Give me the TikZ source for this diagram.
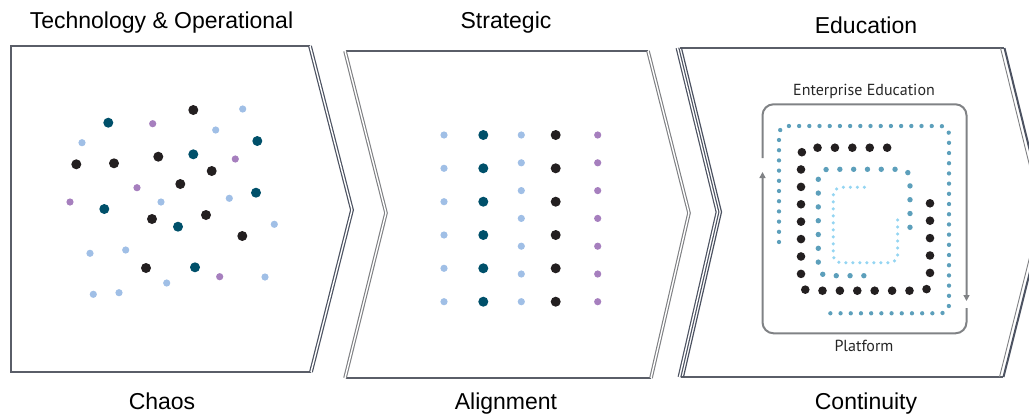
\documentclass[tikz,border=0pt]{standalone}
\usepackage{fontspec}
\setmainfont{Liberation Sans}
\newfontfamily\labelfont{PT Sans}
\usetikzlibrary{arrows.meta}

\definecolor{rimgrey}{HTML}{5A5E68}
\definecolor{edgedark}{HTML}{4C5261}
\definecolor{edgelight}{HTML}{7E7F82}
\definecolor{loopgrey}{HTML}{808285}
\definecolor{dotblack}{HTML}{231F20}
\definecolor{dotteal}{HTML}{00506A}
\definecolor{dotsky}{HTML}{A0BFE6}
\definecolor{dotviolet}{HTML}{A67FBE}
\definecolor{dotblue}{HTML}{5C9FBB}
\definecolor{dotcyan}{HTML}{94D5F2}

\tikzset{
  rim/.style={draw=rimgrey, line width=1.6pt},
  edgeD/.style={draw=edgedark, line width=1.2pt, double=white, double distance=1.4pt},
  edgeL/.style={draw=edgelight, line width=1.1pt, double=white, double distance=1.4pt},
  title/.style={font=\fontsize{23}{26}\selectfont, text=black, anchor=base, inner sep=0pt},
  sublabel/.style={font=\labelfont\fontsize{16}{18}\selectfont, text=black!85, anchor=base, inner sep=0pt},
  bigdot/.style={radius=5pt},
  smalldot/.style={radius=3.6pt},
  dotline/.style={line cap=round, dash pattern=on 0pt off #1},
  loopline/.style={draw=loopgrey, line width=2pt, rounded corners=11pt},
  looptip/.style={-{Triangle[length=6pt,width=6pt]}},
}

\begin{document}
\begin{tikzpicture}[x=1pt, y=-1pt]
\useasboundingbox (0,0) rectangle (1029,413);
\clip (0,0) rectangle (1029,413);

% ---------- panel 1: chaos ----------
\draw[rim] (310,46) -- (11,46) -- (11,372) -- (311,372);
\draw[draw=rimgrey, line width=2.2pt] (11,45) -- (11,373);
\draw[edgeD] (310,46) -- (352,210) -- (311,372);

\foreach \p in {(193.3,110),(76.3,164.3),(114,163.3),(158.3,156.7),(211.7,171),
                (180.3,184),(152,219),(206,215),(242.3,236),(146,268)}
  \fill[dotblack] \p circle[bigdot];
\foreach \p in {(108.3,122.7),(257.3,141),(193.3,154.3),(104.3,209),(256,192.7),
                (178,226.7),(195,267.3)}
  \fill[dotteal] \p circle[bigdot];
\foreach \p in {(242.7,109),(215.7,130),(82,142.7),(161,202),(229.3,198.3),
                (274.3,224.3),(90,253.3),(125.7,250),(265,277),(166.7,283),
                (93.3,294.3),(119,292.7)}
  \fill[dotsky] \p circle[smalldot];
\foreach \p in {(152.7,123.7),(235.3,159),(137,187.7),(70,202),(219.7,276.7)}
  \fill[dotviolet] \p circle[smalldot];

% ---------- panel 2: alignment ----------
\draw[rim] (346,51) -- (648,51);
\draw[rim] (346,378) -- (651,378);
\draw[edgeL] (345,51) -- (386,213) -- (345,378);
\draw[edgeL] (648,51) -- (689,213) -- (651,378);

\foreach \y in {135,168.3,201.7,235,268.3,301.7} {
  \fill[dotsky]   (444,\y)   circle[smalldot];
  \fill[dotteal]  (483.3,\y) circle[bigdot];
  \fill[dotblack] (555.7,\y) circle[bigdot];
}
\foreach \y in {135,162.8,190.6,218.4,246.2,274,301.7} {
  \fill[dotsky]    (521.3,\y) circle[smalldot];
  \fill[dotviolet] (597.7,\y) circle[smalldot];
}

% ---------- panel 3: continuity ----------
\draw[rim] (680,48) -- (1004,48);
\draw[rim] (681,377) -- (1003,377);
\draw[edgeD] (677.5,48) -- (717.5,212) -- (679.5,377);
\draw[draw=edgedark, line width=1.2pt] (681.5,48) -- (721.5,212) -- (683.5,377);
\draw[draw=edgelight, line width=0.9pt] (1000.5,48) -- (1041,212) -- (999.5,377);
\draw[draw=edgedark, line width=2pt] (1004.5,48) -- (1045,212) -- (1003.5,377);

% loop around the spiral
\draw[loopline, looptip] (762.5,158) -- (762.5,104.3) -- (966.5,104.3) -- (966.5,301);
\draw[loopline, looptip] (966.5,308) -- (966.5,333.3) -- (762.5,333.3) -- (762.5,172);

% dotted spiral, outside in
\draw[draw=dotblue, line width=4.3pt, dotline=10.2pt, rounded corners=8pt]
  (779,242) -- (779,126) -- (949,126) -- (949,313.3) -- (825,313.3);
\draw[draw=dotblack, line width=8.6pt, dotline=17.4pt, rounded corners=8pt]
  (930,203.3) -- (930,290.7) -- (801,290.7) -- (801,147.7) -- (891,147.7);
\draw[draw=dotblue, line width=5.4pt, dotline=13.8pt, rounded corners=9pt]
  (910,227.3) -- (910,169.3) -- (818.3,169.3) -- (818.3,275.7) -- (870,275.7);
\draw[draw=dotcyan, line width=3.5pt, dotline=7pt, rounded corners=8pt]
  (864.3,187.3) -- (833.3,187.3) -- (833.3,262.7) -- (897.7,262.7) -- (897.7,216.7);

\node[sublabel] (ent) at (864,95) {Enterprise Education};
\node[sublabel] (plat) at (864,351) {Platform};

% ---------- headings ----------
\node[title] (t1) at (161.5,28) {Technology \& Operational};
\node[title] (t2) at (506,28.5) {Strategic};
\node[title] (t3) at (866,33) {Education};
\node[title] (b1) at (162,409) {Chaos};
\node[title] (b2) at (506,409) {Alignment};
\node[title] (b3) at (866,409) {Continuity};
\end{tikzpicture}
\end{document}
